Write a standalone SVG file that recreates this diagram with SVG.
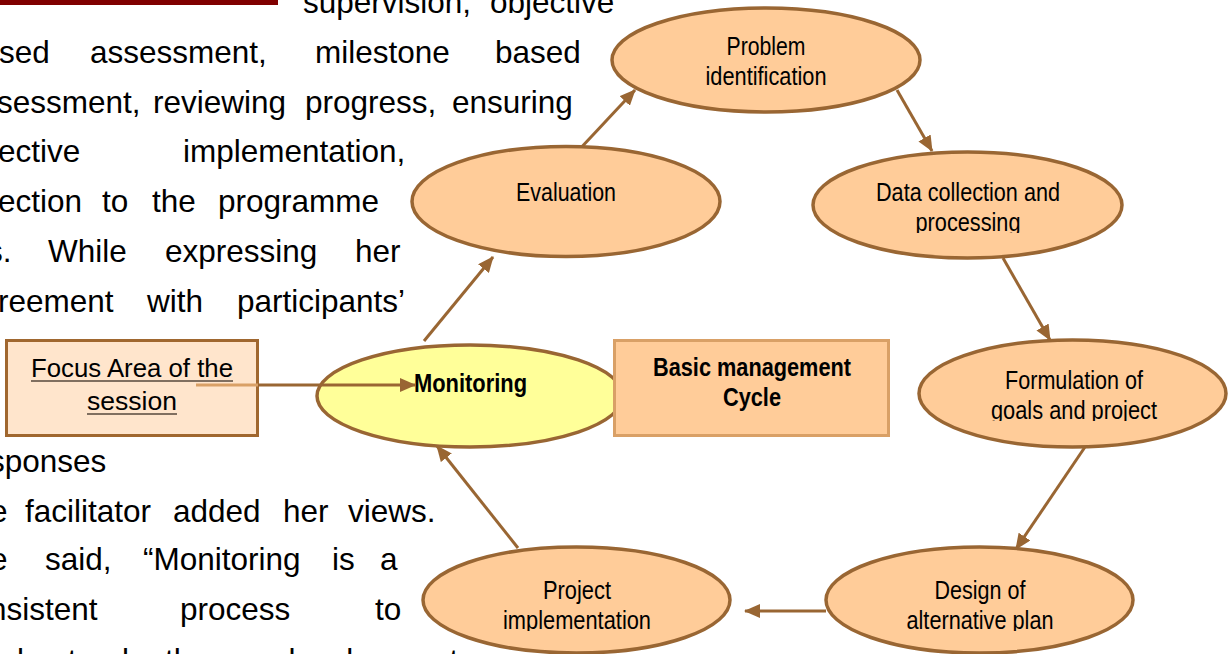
<svg xmlns="http://www.w3.org/2000/svg" width="1228" height="654" viewBox="0 0 1228 654">
<style>
.body{font-family:"Liberation Sans",Arial,sans-serif;font-size:31.5px;fill:#000}
.lbl{font-family:"Liberation Sans Narrow","Liberation Sans",Arial,sans-serif;font-size:26px;fill:#000}
.b{font-weight:bold}
.ell{fill:#FFCC99;stroke:#996633;stroke-width:3.5}
.con{stroke:#996633;stroke-width:3;fill:none;marker-end:url(#ah)}
</style>
<defs>
<marker id="ah" markerUnits="userSpaceOnUse" markerWidth="16" markerHeight="14" refX="15" refY="7" orient="auto">
<path d="M0,0 L16,7 L0,14 Z" fill="#996633"/>
</marker>
<clipPath id="c1"><rect x="800" y="200" width="330" height="33"/></clipPath>
<clipPath id="c2"><rect x="900" y="390" width="330" height="31"/></clipPath>
<clipPath id="c3"><rect x="820" y="600" width="330" height="31"/></clipPath>
<clipPath id="c4"><rect x="420" y="600" width="330" height="31"/></clipPath>
</defs>
<rect x="0" y="0" width="1228" height="654" fill="#fff"/>
<rect x="0" y="0" width="278" height="5" fill="#800000"/>
<g id="body-text" class="body">
<text x="303" y="13">supervision,</text><text x="490" y="13">objective</text>
<text x="-1" y="63">sed</text><text x="90" y="63">assessment,</text><text x="315" y="63">milestone</text><text x="495" y="63">based</text>
<text x="-3" y="113">sessment,</text><text x="153" y="113">reviewing</text><text x="305" y="113">progress,</text><text x="452" y="113">ensuring</text>
<text x="-2" y="162">ective</text><text x="183" y="162">implementation,</text>
<text x="-2" y="212">ection</text><text x="102" y="212">to</text><text x="152" y="212">the</text><text x="218" y="212">programme</text>
<text x="-13" y="262">s.</text><text x="48" y="262">While</text><text x="165" y="262">expressing</text><text x="355" y="262">her</text>
<text x="-2" y="312">reement</text><text x="147" y="312">with</text><text x="237" y="312">participants’</text>
<text x="-11" y="472">sponses</text>
<text x="-10" y="522">e</text><text x="25" y="522">facilitator</text><text x="173" y="522">added</text><text x="283" y="522">her</text><text x="348" y="522">views.</text>
<text x="-10" y="570">e</text><text x="45" y="570">said,</text><text x="143" y="570">“Monitoring</text><text x="332" y="570">is</text><text x="380" y="570">a</text>
<text x="-11" y="620">nsistent</text><text x="180" y="620">process</text><text x="375" y="620">to</text>
<text x="-11" y="671">nderstand</text><text x="165" y="671">the</text><text x="278" y="671">development</text>
</g>
<g id="connectors">
<line class="con" x1="424" y1="341" x2="493" y2="257"/>
<line class="con" x1="577" y1="152" x2="635" y2="90"/>
<line class="con" x1="897" y1="90" x2="932" y2="151"/>
<line class="con" x1="1003" y1="258" x2="1050" y2="340"/>
<line class="con" x1="1085" y1="447" x2="1016" y2="549"/>
<line class="con" x1="826" y1="611" x2="745" y2="611"/>
<line class="con" x1="518" y1="548" x2="437" y2="446"/>
</g>
<g id="n-problem">
<ellipse class="ell" cx="766" cy="60" rx="154" ry="52"/>
<text class="lbl" x="766" y="55" text-anchor="middle" textLength="79" lengthAdjust="spacingAndGlyphs">Problem</text>
<text class="lbl" x="766" y="85" text-anchor="middle" textLength="121" lengthAdjust="spacingAndGlyphs">identification</text>
</g>
<g id="n-data">
<ellipse class="ell" cx="967.5" cy="205" rx="154.5" ry="53"/>
<text class="lbl" x="968" y="201" text-anchor="middle" textLength="184" lengthAdjust="spacingAndGlyphs">Data collection and</text>
<text class="lbl" x="968" y="231" text-anchor="middle" textLength="105" lengthAdjust="spacingAndGlyphs" clip-path="url(#c1)">processing</text>
</g>
<g id="n-formulation">
<ellipse class="ell" cx="1072.5" cy="393.5" rx="153.5" ry="53.5"/>
<text class="lbl" x="1074" y="389" text-anchor="middle" textLength="138" lengthAdjust="spacingAndGlyphs">Formulation of</text>
<text class="lbl" x="1074" y="419" text-anchor="middle" textLength="166" lengthAdjust="spacingAndGlyphs" clip-path="url(#c2)">goals and project</text>
</g>
<g id="n-design">
<ellipse class="ell" cx="979.5" cy="600" rx="153.5" ry="53"/>
<text class="lbl" x="980" y="599" text-anchor="middle" textLength="91" lengthAdjust="spacingAndGlyphs">Design of</text>
<text class="lbl" x="980" y="629" text-anchor="middle" textLength="147" lengthAdjust="spacingAndGlyphs" clip-path="url(#c3)">alternative plan</text>
</g>
<g id="n-project">
<ellipse class="ell" cx="576.5" cy="600" rx="153.5" ry="53"/>
<text class="lbl" x="577" y="599" text-anchor="middle" textLength="68" lengthAdjust="spacingAndGlyphs">Project</text>
<text class="lbl" x="577" y="629" text-anchor="middle" textLength="148" lengthAdjust="spacingAndGlyphs" clip-path="url(#c4)">implementation</text>
</g>
<g id="n-evaluation">
<ellipse class="ell" cx="566" cy="201.5" rx="154" ry="55"/>
<text class="lbl" x="566" y="201" text-anchor="middle" textLength="100" lengthAdjust="spacingAndGlyphs">Evaluation</text>
</g>
<g id="n-monitoring">
<ellipse cx="470" cy="396" rx="153" ry="51" fill="#FFFF99" stroke="#996633" stroke-width="3.5"/>
<text class="lbl b" x="414" y="392" textLength="113" lengthAdjust="spacingAndGlyphs">Monitoring</text>
</g>
<g id="n-basic">
<rect x="614.5" y="340.5" width="274" height="95" fill="#FFCC99" stroke="#D9A066" stroke-width="3"/>
<text class="lbl b" x="752" y="376" text-anchor="middle" textLength="198" lengthAdjust="spacingAndGlyphs">Basic management</text>
<text class="lbl b" x="752" y="406" text-anchor="middle" textLength="58" lengthAdjust="spacingAndGlyphs">Cycle</text>
</g>
<g id="n-focus">
<rect x="6.5" y="340.5" width="251" height="95" fill="#FFE5CC" stroke="#A0672F" stroke-width="3"/>
<text class="lbl" x="132" y="377" text-anchor="middle" textLength="202" lengthAdjust="spacingAndGlyphs" fill="#222">Focus Area of the</text>
<line x1="31" y1="381" x2="233" y2="381" stroke="#806F60" stroke-width="2"/>
<text class="lbl" x="132" y="410" text-anchor="middle" textLength="90" lengthAdjust="spacingAndGlyphs" fill="#222">session</text>
<line x1="87" y1="414" x2="177" y2="414" stroke="#806F60" stroke-width="2"/>
</g>
<g id="focus-connector">
<line x1="196" y1="385" x2="258" y2="385" stroke="#D9A066" stroke-width="3"/>
<line class="con" x1="258" y1="385" x2="415" y2="385"/>
</g>
</svg>
